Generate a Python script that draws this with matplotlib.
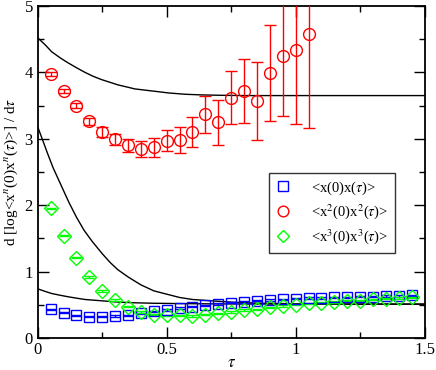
import matplotlib
matplotlib.use("Agg")
import matplotlib.pyplot as plt
from matplotlib.ticker import MultipleLocator, FuncFormatter

plt.rcParams['font.family'] = ['Liberation Serif', 'DejaVu Serif']
plt.rcParams['mathtext.fontset'] = 'stix'

tau = [0.05, 0.10, 0.15, 0.20, 0.25, 0.30, 0.35, 0.40, 0.45, 0.50,
       0.55, 0.60, 0.65, 0.70, 0.75, 0.80, 0.85, 0.90, 0.95, 1.00,
       1.05, 1.10, 1.15, 1.20, 1.25, 1.30, 1.35, 1.40, 1.45]

blue = [0.43, 0.38, 0.34, 0.32, 0.32, 0.33, 0.34, 0.37, 0.40, 0.42,
        0.45, 0.47, 0.49, 0.51, 0.53, 0.54, 0.56, 0.57, 0.58, 0.59,
        0.60, 0.60, 0.61, 0.61, 0.62, 0.62, 0.63, 0.63, 0.64]
blue_err = [0.01] * len(blue)

green = [1.95, 1.54, 1.21, 0.92, 0.71, 0.57, 0.47, 0.39, 0.35, 0.34,
         0.34, 0.33, 0.35, 0.37, 0.39, 0.42, 0.43, 0.46, 0.48, 0.50,
         0.52, 0.53, 0.54, 0.56, 0.56, 0.58, 0.59, 0.60, 0.61]
green_err = [0.01] * len(green)

tau_red = tau[:21]
red = [3.98, 3.72, 3.50, 3.26, 3.10, 2.99, 2.90, 2.84, 2.87, 2.97,
       2.98, 3.10, 3.37, 3.25, 3.62, 3.72, 3.57, 3.99, 4.24, 4.34, 4.58]
red_err = [0.03, 0.03, 0.04, 0.05, 0.07, 0.08, 0.10, 0.12, 0.14, 0.16,
           0.20, 0.23, 0.28, 0.34, 0.40, 0.48, 0.59, 0.72, 0.89, 1.12, 1.42]

# black reference curves
c1_t = [0.0, 0.03, 0.054, 0.09, 0.119, 0.15, 0.183, 0.215, 0.248, 0.28, 0.312, 0.345,
        0.377, 0.41, 0.442, 0.475, 0.506, 0.571, 0.636, 0.70, 0.80, 1.5]
c1_y = [4.52, 4.41, 4.31, 4.21, 4.14, 4.07, 4.00, 3.94, 3.89, 3.85, 3.81, 3.78,
        3.75, 3.735, 3.72, 3.705, 3.69, 3.67, 3.66, 3.655, 3.65, 3.65]

c2_t = [0.0, 0.02, 0.04, 0.06, 0.08, 0.10, 0.12, 0.15, 0.18, 0.21, 0.25, 0.28, 0.31,
        0.35, 0.40, 0.45, 0.50, 0.55, 0.60, 0.67, 0.75, 0.85, 1.0, 1.2, 1.5]
c2_y = [3.18, 2.97, 2.76, 2.56, 2.39, 2.22, 2.05, 1.82, 1.62, 1.46, 1.27, 1.14, 1.03,
        0.92, 0.80, 0.71, 0.66, 0.61, 0.58, 0.56, 0.54, 0.525, 0.515, 0.51, 0.51]

c3_t = [0.0, 0.03, 0.054, 0.085, 0.119, 0.15, 0.183, 0.215, 0.248, 0.28, 0.312,
        0.377, 0.45, 0.55, 0.70, 1.0, 1.5]
c3_y = [0.74, 0.70, 0.67, 0.645, 0.62, 0.60, 0.58, 0.57, 0.56, 0.55, 0.54,
        0.53, 0.523, 0.518, 0.513, 0.51, 0.51]

legend_labels = [r'<x(0)x($\tau$)>', r'<x$^{2}$(0)x$^{2}$($\tau$)>', r'<x$^{3}$(0)x$^{3}$($\tau$)>']

fig = plt.figure(figsize=(4.36, 3.70), dpi=100)
ax = fig.add_axes([0.0865, 0.0865, 0.8875, 0.8975])

for t, y in [(c1_t, c1_y), (c2_t, c2_y), (c3_t, c3_y)]:
    ax.plot(t, y, color='black', lw=1.0, zorder=2)

eb1 = ax.errorbar(tau, blue, yerr=blue_err, fmt='s', ms=7.5, mfc='none', mec='#0000ff', mew=1.0,
                  ecolor='#0000ff', elinewidth=1.0, capsize=3.5, zorder=3)
eb2 = ax.errorbar(tau_red, red, yerr=red_err, fmt='o', ms=8.5, mfc='none', mec='#ff0000', mew=1.0,
                  ecolor='#ff0000', elinewidth=1.0, capsize=4, zorder=3)
eb3 = ax.errorbar(tau, green, yerr=green_err, fmt='D', ms=7, mfc='none', mec='#00ff00', mew=1.0,
                  ecolor='#00ff00', elinewidth=1.0, capsize=3.5, zorder=3)

ax.set_xlim(0, 1.5)
ax.set_ylim(0, 5)
ax.xaxis.set_major_locator(MultipleLocator(0.5))
ax.xaxis.set_minor_locator(MultipleLocator(0.25))
ax.yaxis.set_major_locator(MultipleLocator(1))
ax.yaxis.set_minor_locator(MultipleLocator(0.5))
ax.tick_params(which='both', direction='in', top=True, right=True, labelsize=12, width=1.0)
ax.tick_params(which='major', length=8)
ax.tick_params(which='minor', length=4)
ax.tick_params(axis='x', pad=3)
ax.xaxis.set_major_formatter(FuncFormatter(lambda v, p: ('%g' % v)))
for s in ax.spines.values():
    s.set_linewidth(1.3)

ax.set_xlabel(r'$\tau$', fontsize=12, labelpad=-2)
ax.set_ylabel(r'd [log<x$^{n}$(0)x$^{n}$($\tau$)>] / d$\tau$', fontsize=11, labelpad=3)

leg = ax.legend([eb1[0], eb2[0], eb3[0]], legend_labels, loc='upper left',
                bbox_to_anchor=(0.599, 0.498), frameon=True, fancybox=False,
                edgecolor='black', fontsize=10.5, handlelength=1.0, handletextpad=1.4,
                borderpad=0.45, labelspacing=0.4, borderaxespad=0, markerscale=0.9)
leg.get_frame().set_linewidth(1.0)

fig.savefig('out.png', dpi=100)
